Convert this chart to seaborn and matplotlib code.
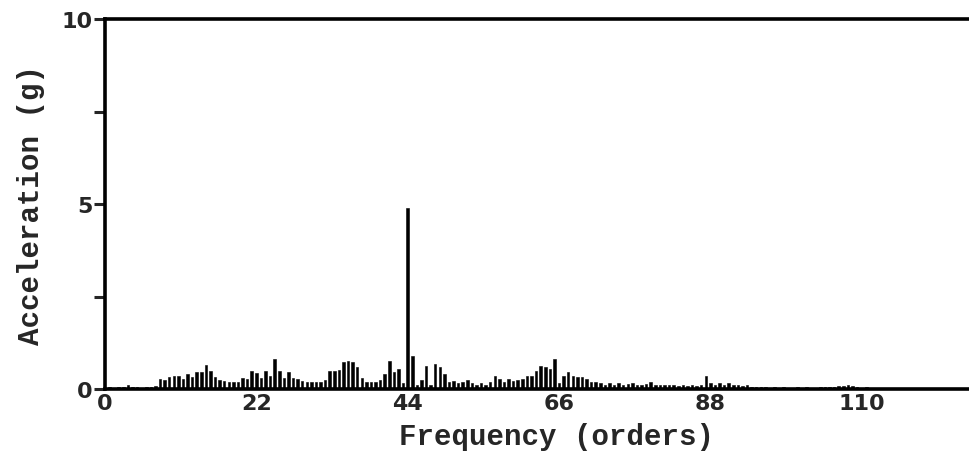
import numpy as np
import pandas as pd
import seaborn as sns
import matplotlib.pyplot as plt
from matplotlib.ticker import MultipleLocator

# spectrum lines every 2/3 order, amplitude in g
step = 2 / 3
amplitude = [
    0.03, 0.05, 0.04, 0.06, 0.05, 0.10, 0.06, 0.05, 0.04, 0.06, 0.05, 0.08,   # 0 - 7.3
    0.27, 0.25, 0.32, 0.36, 0.35, 0.28, 0.40, 0.32, 0.45, 0.45, 0.65, 0.50,   # 8 - 15.3
    0.32, 0.23, 0.22, 0.20, 0.18, 0.20, 0.29, 0.27, 0.50, 0.42, 0.30, 0.50,   # 16 - 23.3
    0.36, 0.80, 0.50, 0.29, 0.45, 0.29, 0.27, 0.22, 0.20, 0.18, 0.20, 0.18,   # 24 - 31.3
    0.25, 0.50, 0.50, 0.52, 0.72, 0.77, 0.74, 0.60, 0.30, 0.20, 0.18, 0.18,   # 32 - 39.3
    0.23, 0.40, 0.77, 0.45, 0.54, 0.15, 4.90, 0.90, 0.10, 0.23, 0.63, 0.10,   # 40 - 47.3
    0.68, 0.59, 0.40, 0.20, 0.22, 0.15, 0.20, 0.25, 0.15, 0.12, 0.15, 0.12,   # 48 - 55.3
    0.20, 0.36, 0.27, 0.20, 0.27, 0.22, 0.25, 0.27, 0.36, 0.36, 0.50, 0.63,   # 56 - 63.3
    0.60, 0.54, 0.81, 0.15, 0.36, 0.45, 0.36, 0.32, 0.32, 0.27, 0.20, 0.18,   # 64 - 71.3
    0.15, 0.12, 0.15, 0.12, 0.15, 0.10, 0.13, 0.15, 0.12, 0.10, 0.14, 0.18,   # 72 - 79.3
    0.12, 0.10, 0.10, 0.12, 0.10, 0.08, 0.10, 0.08, 0.10, 0.08, 0.10, 0.36,   # 80 - 87.3
    0.15, 0.12, 0.15, 0.12, 0.15, 0.10, 0.12, 0.08, 0.10, 0.06, 0.05, 0.06,   # 88 - 95.3
    0.05, 0.04, 0.05, 0.04, 0.05, 0.04, 0.04, 0.05, 0.04, 0.05, 0.04, 0.04,   # 96 - 103.3
    0.05, 0.06, 0.05, 0.06, 0.07, 0.08, 0.10, 0.08, 0.05, 0.04, 0.05, 0.04,   # 104 - 111.3
    0.04, 0.03, 0.03, 0.04, 0.03, 0.03, 0.02, 0.02, 0.02, 0.01, 0.01, 0.01,   # 112 - 119.3
    0.01, 0.01, 0.01, 0.01, 0.01, 0.01, 0.01, 0.01, 0.01, 0.01,               # 120 - 126
]
frequency = np.arange(len(amplitude)) * step

xticks = [0, 22, 44, 66, 88, 110]
yticks = [0, 5, 10]

df = pd.DataFrame({"Frequency": frequency, "Acceleration": amplitude})

sns.set_style("ticks")
fig = plt.figure(figsize=(9.69, 4.56), dpi=100)
ax = fig.add_axes([105 / 969, 1 - 390 / 456, 1 - 105 / 969, 370 / 456])

sns.barplot(data=df, x="Frequency", y="Acceleration", native_scale=True,
            color="black", width=0.55, errorbar=None, ax=ax,
            edgecolor="black", linewidth=0.4)

ax.set_xlim(0, 125.6)
ax.set_ylim(0, 10)
ax.set_xticks(xticks)
ax.set_xticklabels([str(t) for t in xticks])
ax.set_yticks(yticks)
ax.yaxis.set_minor_locator(MultipleLocator(2.5))

for side in ["left", "bottom", "top"]:
    ax.spines[side].set_linewidth(2.6)
    ax.spines[side].set_color("black")
ax.spines["right"].set_visible(False)

ax.tick_params(axis="y", which="both", direction="out", length=8, width=2.2,
               labelsize=16, pad=1)
ax.tick_params(axis="x", length=0, labelsize=16, pad=3)
for lab in ax.get_xticklabels() + ax.get_yticklabels():
    lab.set_fontweight("bold")

mono = {"family": "Liberation Mono", "weight": "bold", "size": 21}
ax.set_xlabel("Frequency (orders)", fontdict=mono)
ax.set_ylabel("Acceleration (g)", fontdict=mono)
ax.xaxis.set_label_coords(0.523, -0.088)
ax.yaxis.set_label_coords(-0.07, 0.5)

fig.savefig("out.png", dpi=100)
